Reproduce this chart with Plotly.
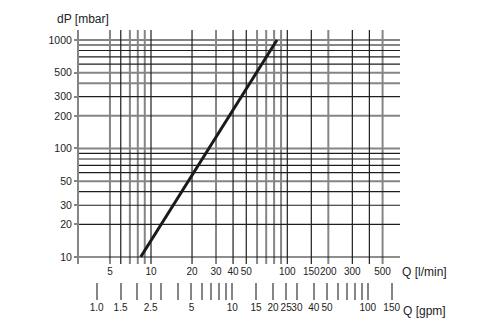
import numpy as np
import plotly.graph_objects as go

# ---- data ----
q_lmin = [8.4, 26.6, 84]          # flow Q [l/min]
dp_mbar = [10, 100, 1000]         # pressure drop dP [mbar]

x_ticks_lmin = [5, 10, 20, 30, 40, 50, 100, 150, 200, 300, 500]
y_ticks = [10, 20, 30, 50, 100, 200, 300, 500, 1000]

gpm_ticks = [1, 1.5, 2, 2.5, 3, 4, 5, 6, 7, 8, 9, 10, 15, 20, 25, 30, 40, 50,
             60, 70, 80, 90, 100, 150]
gpm_labels = {1: "1.0", 1.5: "1.5", 2.5: "2.5", 5: "5", 10: "10", 15: "15",
              20: "20", 25: "25", 30: "30", 40: "40", 50: "50", 100: "100",
              150: "150"}

vgrid_gray = [5, 7, 8, 9, 30, 60, 70, 80, 90, 200, 500]
vgrid_dark = [6, 10, 20, 40, 50, 100, 150, 300, 400]
hgrid_gray = [1000, 900, 500, 400, 200, 100, 50]
hgrid_dark = [800, 700, 600, 300, 90, 80, 70, 60, 40, 30, 20, 10]

GRAY = "#858585"
DARK = "#1e1e1e"
FONT = "Liberation Sans, Arial, sans-serif"

W, H = 500, 333
L, R, T, B = 79, 100, 30, 33
plot_bottom_main = 264


def px_x(px):
    return (px - L) / (W - L - R)


def px_y(py):
    return (H - B - py) / (H - T - B)


fig = go.Figure()

shapes = []
for v in vgrid_gray:
    shapes.append(dict(type="line", xref="x", yref="y domain", x0=v, x1=v, y0=0, y1=1,
                       line=dict(color=GRAY, width=2), layer="below"))
for v in hgrid_gray:
    shapes.append(dict(type="line", xref="x domain", yref="y", x0=0, x1=1, y0=v, y1=v,
                       line=dict(color=GRAY, width=2), layer="below"))
for v in vgrid_dark:
    shapes.append(dict(type="line", xref="x", yref="y domain", x0=v, x1=v, y0=0, y1=1,
                       line=dict(color=DARK, width=1.2), layer="below"))
for v in hgrid_dark:
    shapes.append(dict(type="line", xref="x domain", yref="y", x0=0, x1=1, y0=v, y1=v,
                       line=dict(color=DARK, width=1.2), layer="below"))

fig.add_trace(go.Scatter(x=q_lmin, y=dp_mbar, mode="lines",
                         line=dict(color="#1a1a1a", width=3),
                         showlegend=False, hoverinfo="skip"))
# invisible trace to keep the gpm axis alive
fig.add_trace(go.Scatter(x=[gpm_ticks[0]], y=[dp_mbar[0]], xaxis="x2", yaxis="y",
                         mode="markers", marker=dict(opacity=0),
                         showlegend=False, hoverinfo="skip"))

dom_bottom = px_y(plot_bottom_main)
tf = dict(family=FONT, size=10, color="#222222")

fig.update_layout(
    width=W, height=H,
    margin=dict(l=L, r=R, t=T, b=B, pad=0),
    paper_bgcolor="white", plot_bgcolor="white",
    font=dict(family=FONT, size=11, color="#222222"),
    shapes=shapes,
    xaxis=dict(type="log", range=[0.4718, 2.8268], anchor="y",
               tickvals=x_ticks_lmin, ticktext=[str(v) for v in x_ticks_lmin],
               tickangle=0,
               showgrid=False, zeroline=False, showline=False, ticks="",
               tickfont=tf),
    xaxis2=dict(type="log", range=[-0.1302, 2.2375], overlaying="x", anchor="free",
                position=0, side="bottom",
                tickvals=gpm_ticks,
                ticktext=[gpm_labels.get(v, "") for v in gpm_ticks],
                tickangle=0,
                showgrid=False, zeroline=False, showline=False,
                ticks="inside", ticklen=17, tickwidth=2, tickcolor=GRAY,
                tickfont=tf),
    yaxis=dict(type="log", range=[0.9355, 3.092], domain=[dom_bottom, 1],
               tickvals=y_ticks, ticktext=[str(v) for v in y_ticks],
               showgrid=False, zeroline=False,
               showline=True, linecolor=GRAY, linewidth=2,
               ticks="outside", ticklen=3, tickwidth=1.5, tickcolor=GRAY,
               tickfont=dict(family=FONT, size=10.5, color="#222222")),
    annotations=[
        dict(text="dP [mbar]", xref="paper", yref="paper", x=px_x(55), y=px_y(19),
             xanchor="left", yanchor="middle", showarrow=False,
             font=dict(family=FONT, size=12, color="#222222")),
        dict(text="Q [l/min]", xref="paper", yref="paper", x=px_x(400), y=px_y(272),
             xanchor="left", yanchor="middle", showarrow=False,
             font=dict(family=FONT, size=12, color="#222222")),
        dict(text="Q [gpm]", xref="paper", yref="paper", x=px_x(401), y=px_y(311),
             xanchor="left", yanchor="middle", showarrow=False,
             font=dict(family=FONT, size=12, color="#222222")),
    ],
)

fig.write_html("out.html")
